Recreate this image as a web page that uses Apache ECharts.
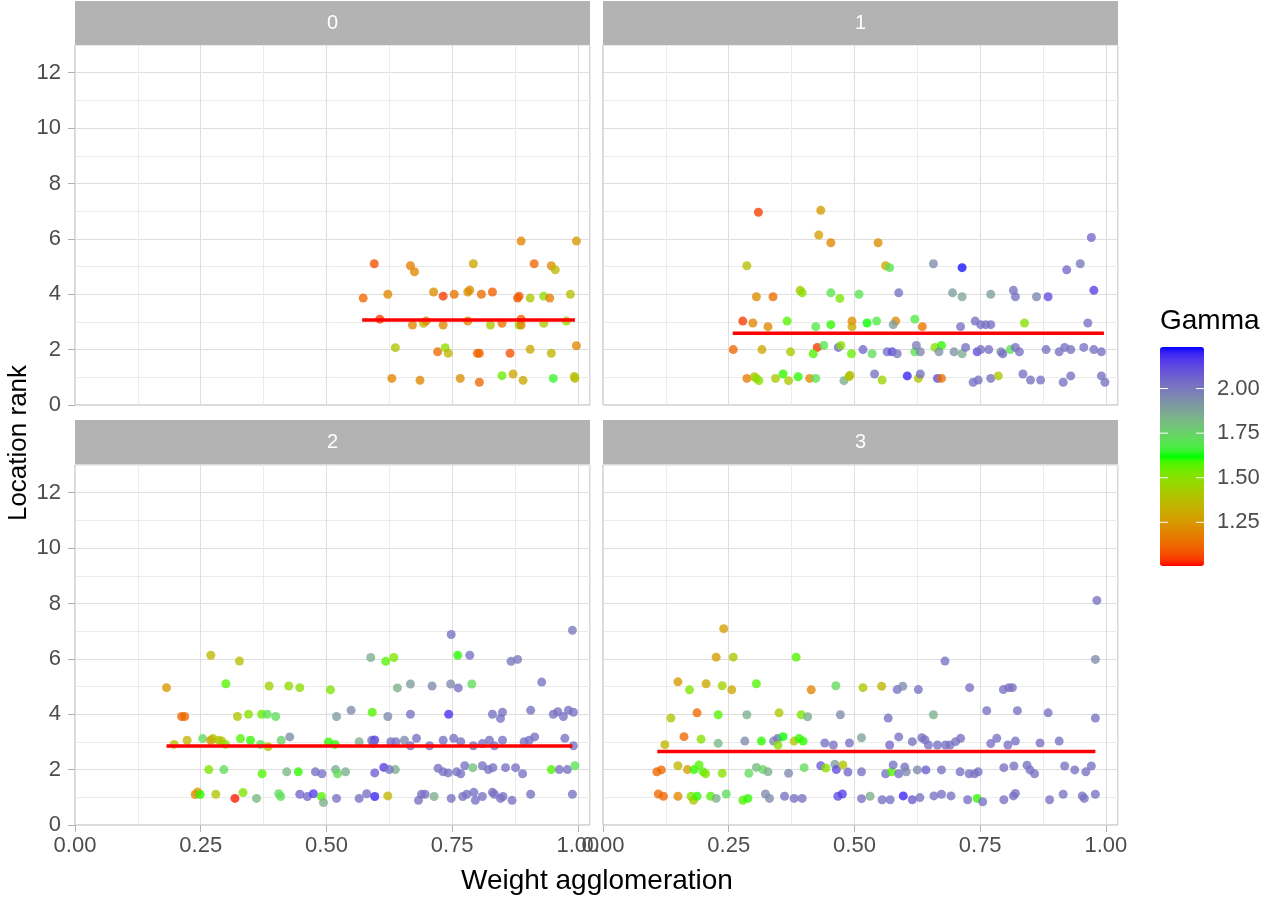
<!DOCTYPE html>
<html>
<head>
<meta charset="utf-8">
<script src="https://cdn.jsdelivr.net/npm/echarts@6/dist/echarts.min.js"></script>
<style>
  html, body { margin: 0; padding: 0; background: #ffffff; }
  #chart { width: 1267px; height: 900px; }
</style>
</head>
<body>
<div id="chart"></div>
<script>
// panel labels (facet strips)
var panelNames = ['0', '1', '2', '3'];
var xTicks = [0, 0.25, 0.5, 0.75, 1];
var yTicks = [0, 2, 4, 6, 8, 10, 12];
var gammaTicks = [1.25, 1.5, 1.75, 2.0];
var gammaMin = 1.005, gammaMax = 2.233;

// [weight agglomeration, location rank, gamma]
var panel0 = [
  [0.887,5.92,1.20],[0.997,5.92,1.25],[0.595,5.10,1.08],[0.667,5.03,1.18],[0.675,4.81,1.20],[0.792,5.10,1.30],[0.913,5.10,1.12],[0.947,5.03,1.22],[0.955,4.88,1.35],
  [0.573,3.86,1.12],[0.622,4.00,1.20],[0.713,4.08,1.22],[0.732,3.93,1.05],[0.754,4.00,1.15],[0.781,4.08,1.22],[0.785,4.15,1.22],[0.808,4.00,1.13],[0.830,4.08,1.10],[0.880,3.86,1.08],[0.883,3.93,1.10],[0.905,3.86,1.40],[0.932,3.93,1.48],[0.944,3.86,1.18],[0.985,4.00,1.38],
  [0.606,3.10,1.05],[0.671,2.89,1.20],[0.693,2.95,1.35],[0.698,3.03,1.22],[0.732,2.89,1.20],[0.781,3.03,1.20],[0.826,2.89,1.40],[0.849,2.95,1.15],[0.883,2.89,1.50],[0.887,3.10,1.10],[0.887,2.89,1.20],[0.932,2.95,1.40],[0.977,3.03,1.45],
  [0.637,2.07,1.40],[0.721,1.92,1.13],[0.736,2.07,1.48],[0.742,1.87,1.35],[0.800,1.87,1.12],[0.804,1.87,1.12],[0.865,1.87,1.08],[0.905,2.01,1.30],[0.947,1.87,1.35],[0.997,2.14,1.20],
  [0.630,0.96,1.20],[0.686,0.89,1.20],[0.766,0.96,1.22],[0.804,0.82,1.12],[0.849,1.06,1.55],[0.871,1.12,1.30],[0.891,0.89,1.30],[0.951,0.96,1.65],[0.993,1.03,1.38],[0.994,0.96,1.38]
];
var panel1 = [
  [0.309,6.96,1.05],[0.433,7.03,1.25],[0.429,6.14,1.27],[0.453,5.86,1.20],[0.286,5.03,1.38],[0.305,3.91,1.22],[0.338,3.91,1.13],[0.392,4.14,1.40],[0.396,4.05,1.50],[0.453,4.05,1.70],[0.471,3.85,1.52],[0.509,4.00,1.70],
  [0.278,3.03,1.05],[0.298,2.96,1.20],[0.328,2.83,1.20],[0.366,3.03,1.58],[0.423,2.83,1.68],[0.453,2.90,1.60],[0.495,3.03,1.22],[0.495,2.83,1.30],
  [0.259,2.00,1.12],[0.316,2.00,1.30],[0.373,1.92,1.42],[0.426,2.08,1.04],[0.418,1.85,1.58],[0.439,2.15,1.70],[0.468,2.08,2.05],[0.473,2.15,1.50],[0.494,1.85,1.55],
  [0.286,0.96,1.18],[0.301,1.02,1.38],[0.305,0.96,1.48],[0.310,0.88,1.50],[0.343,0.96,1.42],[0.358,1.12,1.60],[0.369,0.88,1.42],[0.388,1.02,1.60],[0.411,0.96,1.20],[0.423,0.96,1.70],[0.479,0.88,1.85],[0.489,1.02,1.40],[0.491,1.07,1.38],
  [0.547,5.86,1.22],[0.562,5.03,1.30],[0.570,4.96,1.70],[0.657,5.10,1.95],[0.714,4.96,2.22],[0.971,6.05,2.05],[0.922,4.88,2.05],[0.949,5.10,2.00],
  [0.588,4.05,2.02],[0.695,4.05,1.90],[0.714,3.91,1.87],[0.771,4.00,1.90],[0.816,4.14,2.02],[0.820,3.91,2.02],[0.862,3.91,1.97],[0.885,3.91,2.12],[0.976,4.14,2.15],
  [0.525,2.96,1.62],[0.544,3.03,1.68],[0.582,3.03,1.22],[0.577,2.90,1.90],[0.620,3.10,1.68],[0.635,2.83,1.15],[0.711,2.83,2.02],[0.740,3.03,2.02],[0.751,2.90,2.02],[0.761,2.90,2.02],[0.771,2.90,2.02],[0.838,2.96,1.50],[0.964,2.96,2.02],
  [0.517,2.00,2.05],[0.535,1.85,1.72],[0.565,1.92,2.02],[0.575,1.92,2.12],[0.585,1.85,2.00],[0.620,1.92,1.70],[0.623,2.15,1.98],[0.631,1.92,1.95],[0.660,2.08,1.50],[0.673,2.15,1.60],[0.668,1.92,1.93],[0.698,1.92,1.93],[0.714,1.85,1.85],[0.721,2.08,2.02],[0.744,1.92,2.12],[0.751,2.00,2.02],[0.767,2.00,2.02],[0.791,1.92,1.95],[0.795,1.85,2.03],[0.810,2.00,1.70],[0.820,2.08,2.02],[0.828,1.92,2.02],[0.881,2.00,2.02],[0.907,1.92,2.02],[0.918,2.08,2.02],[0.930,2.00,2.02],[0.956,2.08,2.02],[0.976,2.00,2.02],[0.991,1.92,2.02],
  [0.540,1.12,2.02],[0.555,0.90,1.45],[0.605,1.05,2.20],[0.627,0.96,1.40],[0.631,1.12,2.02],[0.665,0.96,2.12],[0.673,0.96,1.13],[0.736,0.82,2.02],[0.746,0.90,2.02],[0.771,0.96,2.02],[0.786,1.05,1.40],[0.835,1.12,2.02],[0.850,0.90,2.02],[0.870,0.90,2.02],[0.915,0.82,2.02],[0.930,1.05,2.02],[0.991,1.05,2.02],[0.998,0.82,2.02]
];
var panel2 = [
  [0.270,6.13,1.35],[0.327,5.92,1.38],[0.182,4.96,1.25],[0.300,5.10,1.58],[0.386,5.02,1.45],[0.425,5.02,1.48],[0.447,4.96,1.50],[0.508,4.88,1.52],
  [0.212,3.92,1.12],[0.218,3.92,1.12],[0.323,3.92,1.40],[0.345,4.00,1.50],[0.371,4.00,1.55],[0.382,4.00,1.70],[0.399,3.92,1.72],[0.520,3.92,1.90],
  [0.197,2.91,1.38],[0.223,3.06,1.35],[0.254,3.12,1.72],[0.270,3.06,1.20],[0.274,3.12,1.38],[0.286,3.06,1.40],[0.292,3.03,1.40],[0.299,2.91,1.50],[0.329,3.12,1.58],[0.349,3.06,1.60],[0.369,2.91,1.70],[0.384,2.83,1.40],[0.410,3.06,1.75],[0.427,3.18,1.95],[0.504,3.00,1.60],[0.517,2.91,1.60],
  [0.266,2.00,1.52],[0.296,2.00,1.72],[0.372,1.85,1.58],[0.421,1.92,1.82],[0.444,1.92,1.60],[0.478,1.92,2.02],[0.491,1.85,2.02],[0.518,2.00,1.85],[0.522,1.85,1.72],
  [0.239,1.10,1.20],[0.244,1.19,1.25],[0.249,1.10,1.60],[0.280,1.11,1.40],[0.318,0.96,1.02],[0.334,1.17,1.52],[0.361,0.96,1.82],[0.405,1.13,1.72],[0.409,1.03,1.72],[0.447,1.11,2.05],[0.462,1.03,2.05],[0.474,1.13,2.15],[0.490,1.03,1.58],[0.494,0.81,1.85],[0.520,0.96,2.02],
  [0.748,6.88,2.02],[0.989,7.03,2.00],[0.588,6.05,1.85],[0.618,5.91,1.58],[0.634,6.05,1.52],[0.761,6.13,1.60],[0.785,6.13,2.02],[0.867,5.91,2.00],[0.880,5.98,2.00],
  [0.641,4.95,1.85],[0.667,5.09,1.90],[0.710,5.02,1.95],[0.747,5.09,1.95],[0.762,4.95,2.02],[0.789,5.09,1.72],[0.928,5.16,2.02],
  [0.549,4.14,1.95],[0.591,4.07,1.58],[0.622,3.92,1.95],[0.667,4.00,2.02],[0.743,4.00,2.18],[0.830,4.00,2.02],[0.846,3.85,2.02],[0.850,4.07,2.02],[0.906,4.14,2.02],[0.951,4.00,2.02],[0.960,4.09,2.02],[0.971,3.92,2.02],[0.981,4.14,2.02],[0.991,4.07,2.02],
  [0.565,3.01,1.85],[0.590,3.06,2.02],[0.596,3.07,2.15],[0.593,2.94,2.02],[0.628,3.01,2.02],[0.638,3.01,2.02],[0.655,3.06,1.95],[0.667,2.86,2.02],[0.679,3.13,2.02],[0.705,2.86,2.02],[0.732,3.06,2.02],[0.753,3.13,2.02],[0.767,3.01,2.02],[0.792,2.86,2.02],[0.810,2.94,2.02],[0.824,3.06,2.02],[0.834,2.86,2.02],[0.850,3.06,2.02],[0.893,3.01,2.02],[0.903,3.06,2.02],[0.914,3.18,2.02],[0.974,3.13,2.02],[0.991,2.86,2.02],
  [0.538,1.92,1.85],[0.596,1.88,2.08],[0.614,2.08,2.15],[0.637,2.00,1.85],[0.625,2.00,2.02],[0.722,2.05,2.02],[0.732,1.92,2.02],[0.742,1.88,2.02],[0.759,1.92,2.02],[0.767,1.85,2.02],[0.775,2.14,2.02],[0.791,2.07,1.80],[0.810,2.14,2.02],[0.822,2.00,2.02],[0.831,2.07,2.02],[0.856,2.07,2.02],[0.876,2.07,2.02],[0.890,1.85,2.02],[0.947,2.00,1.58],[0.963,2.00,2.02],[0.979,2.00,2.02],[0.994,2.14,1.70],
  [0.565,0.96,2.02],[0.580,1.13,2.02],[0.596,1.03,2.20],[0.622,1.05,1.35],[0.683,0.89,2.02],[0.689,1.11,2.02],[0.696,1.11,2.02],[0.714,1.03,1.85],[0.748,0.96,2.02],[0.771,1.03,2.02],[0.779,1.11,2.02],[0.793,1.18,2.02],[0.796,0.89,2.02],[0.810,1.03,2.02],[0.830,1.18,2.02],[0.834,1.11,2.02],[0.846,0.96,2.02],[0.851,1.03,2.02],[0.869,0.89,2.02],[0.906,1.11,2.02],[0.989,1.11,2.02]
];
var panel3 = [
  [0.240,7.09,1.27],[0.225,6.06,1.27],[0.259,6.06,1.40],[0.384,6.06,1.58],
  [0.149,5.17,1.25],[0.172,4.88,1.52],[0.205,5.10,1.30],[0.237,5.03,1.45],[0.256,4.88,1.30],[0.305,5.10,1.58],[0.414,4.88,1.20],[0.463,5.03,1.72],
  [0.135,3.86,1.40],[0.187,4.05,1.12],[0.229,3.98,1.58],[0.286,3.98,1.85],[0.350,4.05,1.40],[0.394,3.98,1.52],[0.407,3.91,1.85],[0.472,3.98,1.95],
  [0.123,2.90,1.35],[0.161,3.19,1.12],[0.195,3.10,1.50],[0.229,2.95,1.82],[0.282,3.03,1.95],[0.315,3.03,1.60],[0.339,3.03,1.95],[0.347,3.12,2.02],[0.358,3.19,1.62],[0.348,2.89,1.50],[0.380,3.03,1.40],[0.390,3.12,1.60],[0.398,3.03,1.60],[0.441,2.96,2.02],[0.458,2.89,2.02],[0.490,2.96,2.02],
  [0.107,1.92,1.12],[0.116,1.99,1.12],[0.149,2.14,1.35],[0.168,2.00,1.27],[0.181,2.00,1.60],[0.191,2.17,1.58],[0.199,1.92,1.58],[0.204,1.85,1.52],[0.237,1.87,1.50],[0.290,1.87,1.72],[0.305,2.08,1.82],[0.318,2.00,1.72],[0.328,1.92,1.85],[0.369,1.87,1.95],[0.400,2.07,1.72],[0.433,2.14,2.08],[0.443,2.06,1.50],[0.461,2.19,1.90],[0.464,2.00,2.12],[0.477,2.17,1.40],[0.487,1.91,2.05],
  [0.110,1.12,1.12],[0.120,1.04,1.12],[0.149,1.04,1.20],[0.175,1.04,1.52],[0.180,0.89,1.40],[0.187,1.04,1.60],[0.214,1.04,1.58],[0.225,0.96,1.85],[0.245,1.12,1.72],[0.278,0.89,1.58],[0.288,0.96,1.60],[0.323,1.12,1.95],[0.331,0.96,1.95],[0.361,1.04,2.02],[0.380,0.96,2.02],[0.396,0.96,2.02],[0.467,1.04,2.12],[0.476,1.12,2.15],
  [0.982,8.11,2.02],[0.979,5.98,1.95],[0.680,5.92,2.02],[0.517,4.96,1.40],[0.554,5.01,1.35],[0.585,4.89,2.02],[0.596,5.01,1.95],[0.627,4.89,2.02],[0.729,4.96,2.02],[0.796,4.89,2.02],[0.807,4.96,2.02],[0.814,4.96,2.02],
  [0.567,3.86,2.02],[0.657,3.98,1.85],[0.763,4.13,2.02],[0.824,4.13,2.02],[0.885,4.05,2.02],[0.979,3.86,2.02],
  [0.514,3.15,1.88],[0.570,2.89,2.05],[0.588,3.18,2.02],[0.615,3.01,2.02],[0.634,3.15,2.02],[0.640,3.08,2.02],[0.647,2.89,2.02],[0.665,2.89,2.02],[0.681,2.89,2.02],[0.690,2.89,2.02],[0.701,3.01,2.02],[0.711,3.13,2.02],[0.771,2.94,2.02],[0.783,3.13,2.02],[0.805,2.89,2.02],[0.820,3.03,2.02],[0.869,2.96,2.02],[0.907,3.03,2.02],
  [0.514,1.92,2.02],[0.562,1.85,2.02],[0.574,1.92,1.58],[0.577,2.17,2.02],[0.588,1.85,2.02],[0.600,2.09,2.02],[0.603,1.92,1.95],[0.625,1.99,1.95],[0.642,1.99,2.08],[0.673,1.99,2.02],[0.710,1.92,2.02],[0.728,1.85,2.02],[0.739,1.85,2.02],[0.746,1.92,2.02],[0.797,2.07,2.02],[0.817,2.13,2.02],[0.843,2.16,2.02],[0.849,1.99,2.02],[0.858,1.85,2.02],[0.918,2.13,2.02],[0.938,1.99,2.02],[0.960,1.92,2.02],[0.971,2.13,2.02],
  [0.514,0.95,2.02],[0.531,1.04,1.85],[0.555,0.91,2.02],[0.571,0.91,2.02],[0.597,1.05,2.20],[0.615,0.91,2.08],[0.630,0.99,2.02],[0.658,1.05,2.02],[0.673,1.11,2.02],[0.692,1.05,2.02],[0.725,0.91,2.02],[0.744,0.96,1.60],[0.755,0.84,2.02],[0.797,0.91,2.02],[0.816,1.05,2.02],[0.820,1.14,2.02],[0.888,0.91,2.02],[0.915,1.11,2.02],[0.953,1.05,2.02],[0.957,0.96,2.02],[0.979,1.11,2.02]
];
var panels = [panel0, panel1, panel2, panel3];

// red mean line per panel
var meanRank = [3.07, 2.59, 2.85, 2.65];
var lineFrom = [0.571, 0.258, 0.182, 0.108];
var lineTo = [0.994, 0.996, 0.989, 0.979];

// ---- colour ramp red -> green -> blue, interpolated in Lab like ggplot
function toLin(c) { c /= 255; return c <= 0.04045 ? c / 12.92 : Math.pow((c + 0.055) / 1.055, 2.4); }
function fromLin(c) {
  var v = c <= 0.0031308 ? 12.92 * c : 1.055 * Math.pow(Math.max(c, 0), 1 / 2.4) - 0.055;
  return Math.max(0, Math.min(255, Math.round(v * 255)));
}
function fl(t) { return t > 0.008856 ? Math.cbrt(t) : 7.787 * t + 16 / 116; }
function finv(t) { return t > 0.206893 ? t * t * t : (t - 16 / 116) / 7.787; }
function hexToLab(h) {
  var r = toLin(parseInt(h.slice(1, 3), 16)), g = toLin(parseInt(h.slice(3, 5), 16)), b = toLin(parseInt(h.slice(5, 7), 16));
  var x = (0.4124 * r + 0.3576 * g + 0.1805 * b) / 0.95047;
  var y = (0.2126 * r + 0.7152 * g + 0.0722 * b);
  var z = (0.0193 * r + 0.1192 * g + 0.9505 * b) / 1.08883;
  return [116 * fl(y) - 16, 500 * (fl(x) - fl(y)), 200 * (fl(y) - fl(z))];
}
function labToHex(l) {
  var fy = (l[0] + 16) / 116, fx = fy + l[1] / 500, fz = fy - l[2] / 200;
  var x = finv(fx) * 0.95047, y = finv(fy), z = finv(fz) * 1.08883;
  var rgb = [3.2406 * x - 1.5372 * y - 0.4986 * z, -0.9689 * x + 1.8758 * y + 0.0415 * z, 0.0557 * x - 0.2040 * y + 1.0570 * z];
  return '#' + rgb.map(function (c) { var s = fromLin(c).toString(16); return s.length < 2 ? '0' + s : s; }).join('');
}
function labRamp(cols, steps) {
  var labs = cols.map(hexToLab), out = [];
  for (var i = 0; i < labs.length - 1; i++) {
    for (var k = 0; k < steps; k++) {
      var t = k / steps, a = labs[i], b = labs[i + 1];
      out.push(labToHex([a[0] + (b[0] - a[0]) * t, a[1] + (b[1] - a[1]) * t, a[2] + (b[2] - a[2]) * t]));
    }
  }
  out.push(cols[cols.length - 1]);
  return out;
}
var rampColors = labRamp(['#ff0000', '#00ff00', '#0000ff'], 20);

// ---- layout
var grids = [
  { left: 75, top: 45, width: 515, height: 360 },
  { left: 603, top: 45, width: 515, height: 360 },
  { left: 75, top: 465, width: 515, height: 360 },
  { left: 603, top: 465, width: 515, height: 360 }
];
var xMax = 1.024, yMax = 13;
var fontFam = '"Liberation Sans", Arial, sans-serif';

var xAxes = [], yAxes = [], series = [];
grids.forEach(function (g, i) {
  var bottomRow = i >= 2, leftCol = i % 2 === 0;
  // minor grid first so the major lines sit on top
  xAxes.push({
    type: 'value', gridIndex: i, position: 'bottom', min: 0, max: xMax, interval: 0.125,
    axisLine: { show: false }, axisTick: { show: false }, axisLabel: { show: false },
    splitLine: { show: true, lineStyle: { color: '#ebebeb', width: 1 } }
  });
  xAxes.push({
    type: 'value', gridIndex: i, position: 'bottom', offset: 0, min: 0, max: xMax, interval: 0.25,
    axisLine: { show: false },
    axisTick: { show: bottomRow, length: 7, customValues: xTicks, lineStyle: { color: '#b3b3b3', width: 1 } },
    axisLabel: {
      show: bottomRow, customValues: xTicks, color: '#4d4d4d', fontSize: 22, fontFamily: fontFam, margin: 10,
      formatter: function (v) { return v.toFixed(2); }
    },
    splitLine: { show: true, lineStyle: { color: '#dedede', width: 1 } }
  });
  yAxes.push({
    type: 'value', gridIndex: i, position: 'left', min: 0, max: yMax, interval: 1,
    axisLine: { show: false }, axisTick: { show: false }, axisLabel: { show: false },
    splitLine: { show: true, lineStyle: { color: '#ebebeb', width: 1 } }
  });
  yAxes.push({
    type: 'value', gridIndex: i, position: 'left', offset: 0, min: 0, max: yMax, interval: 2,
    axisLine: { show: false },
    axisTick: { show: leftCol, length: 7, customValues: yTicks, lineStyle: { color: '#b3b3b3', width: 1 } },
    axisLabel: {
      show: leftCol, customValues: yTicks, color: '#4d4d4d', fontSize: 22, fontFamily: fontFam, margin: 14,
      formatter: function (v) { return String(v); }
    },
    splitLine: { show: true, lineStyle: { color: '#dedede', width: 1 } }
  });
});

panels.forEach(function (pts, i) {
  series.push({
    type: 'scatter', xAxisIndex: 2 * i + 1, yAxisIndex: 2 * i + 1,
    data: pts, symbolSize: 9, z: 2,
    itemStyle: { opacity: 0.78 },
    emphasis: { disabled: true }
  });
});
panels.forEach(function (pts, i) {
  series.push({
    type: 'line', xAxisIndex: 2 * i + 1, yAxisIndex: 2 * i + 1,
    data: [[lineFrom[i], meanRank[i]], [lineTo[i], meanRank[i]]],
    showSymbol: false, symbol: 'none', z: 3, silent: true,
    lineStyle: { color: '#ff0000', width: 3.5 }
  });
});

// ---- strips, titles, legend decorations
var graphics = [];
grids.forEach(function (g, i) {
  var sTop = i < 2 ? 1 : 420, sH = 44;
  graphics.push({
    type: 'rect', shape: { x: g.left, y: sTop, width: g.width, height: sH },
    style: { fill: '#b3b3b3' }, silent: true
  });
  graphics.push({
    type: 'text', x: g.left + g.width / 2, y: sTop + sH / 2,
    style: { text: panelNames[i], fill: '#ffffff', fontSize: 20, fontFamily: fontFam, textAlign: 'center', textVerticalAlign: 'middle' },
    silent: true
  });
});
graphics.push({
  type: 'text', x: 597, y: 881,
  style: { text: 'Weight agglomeration', fill: '#000000', fontSize: 28, fontFamily: fontFam, textAlign: 'center', textVerticalAlign: 'middle' }
});
graphics.push({
  type: 'text', x: 19, y: 443, rotation: Math.PI / 2,
  style: { text: 'Location rank', fill: '#000000', fontSize: 26, fontFamily: fontFam, textAlign: 'center', textVerticalAlign: 'middle' }
});

var barLeft = 1160, barTop = 347, barW = 44, barH = 219;
graphics.push({
  type: 'text', x: barLeft, y: 321,
  style: { text: 'Gamma', fill: '#000000', fontSize: 28, fontFamily: fontFam, textAlign: 'left', textVerticalAlign: 'middle' }
});
gammaTicks.forEach(function (v) {
  var y = barTop + (gammaMax - v) / (gammaMax - gammaMin) * barH;
  graphics.push({ type: 'line', shape: { x1: barLeft, y1: y, x2: barLeft + 8, y2: y }, style: { stroke: '#ffffff', lineWidth: 1 }, z: 100 });
  graphics.push({ type: 'line', shape: { x1: barLeft + barW - 8, y1: y, x2: barLeft + barW, y2: y }, style: { stroke: '#ffffff', lineWidth: 1 }, z: 100 });
  graphics.push({
    type: 'text', x: barLeft + barW + 13, y: y,
    style: { text: v.toFixed(2), fill: '#4d4d4d', fontSize: 22, fontFamily: fontFam, textAlign: 'left', textVerticalAlign: 'middle' }
  });
});

var chart = echarts.init(document.getElementById('chart'), null, { renderer: 'canvas' });
chart.setOption({
  animation: false,
  backgroundColor: '#ffffff',
  grid: grids.map(function (g) {
    return { left: g.left, top: g.top, width: g.width, height: g.height, show: true, borderColor: '#b3b3b3', borderWidth: 1, backgroundColor: 'transparent' };
  }),
  xAxis: xAxes,
  yAxis: yAxes,
  visualMap: {
    type: 'continuous', seriesIndex: [0, 1, 2, 3], dimension: 2,
    min: gammaMin, max: gammaMax, calculable: false, hoverLink: false,
    left: barLeft, top: barTop, itemWidth: barW, itemHeight: barH, padding: 0,
    text: null, showLabel: false,
    inRange: { color: rampColors }
  },
  graphic: graphics,
  series: series
});
</script>
</body>
</html>
